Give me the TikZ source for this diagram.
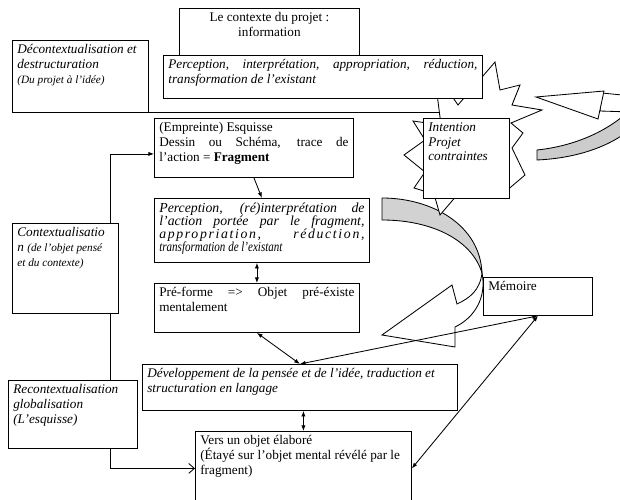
\documentclass[tikz,border=0pt]{standalone}
\usepackage{fontspec}
\usepackage{graphicx}
\setmainfont{Liberation Serif}
\usetikzlibrary{arrows.meta}

\newlength{\pxunit}
\setlength{\pxunit}{0.025cm}
% text block of a panel: width and height in pixels, text set from the top
\newcommand{\boxtxt}[3]{\parbox[t][\dimexpr#2\pxunit-6pt\relax][t]{\dimexpr#1\pxunit-7pt\relax}{\hyphenpenalty=10000\exhyphenpenalty=10000 #3}}
\newcommand{\smalltxt}{\fontsize{8}{9.5}\selectfont}

\begin{document}
\begin{tikzpicture}[x=0.025cm, y=-0.025cm, line width=0.6pt,
    font=\fontsize{9.4}{10.5}\selectfont,
    panel/.style={draw, fill=white, anchor=north west, inner xsep=3.5pt, inner ysep=3pt},
    arrowto/.style={-{Latex[length=4pt,width=3pt]}},
    biarrow/.style={{Latex[length=4pt,width=3pt]}-{Latex[length=4pt,width=3pt]}}]
  \useasboundingbox (0,0) rectangle (620,500);
  \clip (0,0) rectangle (620,500);

  \coordinate (spine) at (110,0);
  \draw (12,112) -- (470,112);

  % return arrow on the right
  \draw[fill=white] (602,93) -- (632,96) -- (632,112) -- (600,111) -- cycle;
  \draw[fill=gray!40] (630,110) .. controls (608,131) and (575,146) .. (537,150)
    -- (537,160) .. controls (580,158) and (612,145) .. (632,128) -- cycle;
  \draw[fill=white] (536,97) -- (604,91) -- (598,119) -- cycle;

  % curved arrow under the intention
  \draw[fill=gray!35] (382,198) .. controls (432,198) and (480,225) .. (482,273)
    .. controls (472,240) and (432,220) .. (382,220) -- cycle;
  \draw[fill=white] (482,273) .. controls (480,290) and (470,298) .. (457,304)
    -- (452,285) -- (382,335) -- (455,347) -- (455,327)
    .. controls (474,318) and (487,298) .. (482,273) -- cycle;

  % burst round the intention
  \draw[fill=white] (495,62) -- (500,90) -- (520,85) -- (512,105) -- (542,110)
    -- (511,123) -- (523,133) -- (512,148) -- (525,175) -- (505,192)
    -- (458,194) -- (440,215) -- (434,194) -- (414,188) -- (425,172)
    -- (404,155) -- (425,140) -- (413,121) -- (441,125) -- (434,70)
    -- (458,105) -- cycle;

  \node[panel] (deconx) at (12,40) {\boxtxt{136}{72}{\itshape Décontextualisation et\\
    destructuration\\ {\smalltxt(Du projet à l'idée)}}};
  \node[panel] (contexte) at (179,8) {\boxtxt{180}{60}{\centering Le contexte du projet :\\ information}};
  \node[panel] (persp1) at (163,55) {\boxtxt{319}{43}{\itshape Perception, interprétation,
    appropriation, réduction,\linebreak transformation de l'existant}};
  \node[panel] (intention) at (423,118) {\boxtxt{86}{80}{\itshape Intention\\ Projet\\ contraintes}};
  \node[panel] (empreinte) at (154,118) {\boxtxt{199}{59}{(Empreinte) Esquisse\\
    Dessin ou Schéma, trace de\linebreak l'action = \textbf{Fragment}}};
  \node[panel] (persp2) at (154,198) {\boxtxt{215}{64}{\itshape\fontsize{9.8}{9.4}\selectfont
    Perception, (ré)interprétation de\linebreak l'action portée par le fragment,\linebreak
    {\addfontfeature{LetterSpace=12}appropriation, réduction,}\linebreak
    \scalebox{0.8}[1]{transformation de l'existant}}};
  \node[panel] (preforme) at (154,283) {\boxtxt{205}{49}{Pré-forme => Objet pré-éxiste\linebreak mentalement}};
  \node[panel] (memoire) at (483,277) {\boxtxt{109}{38}{Mémoire}};
  \node[panel] (developpement) at (142,364) {\boxtxt{315}{46}{\itshape Développement de la pensée
    et de l'idée, traduction et\\ structuration en langage}};
  \node[panel] (vers) at (195,431) {\boxtxt{216}{74}{Vers un objet élaboré\\
    (Étayé sur l'objet mental révélé par le\\ fragment)}};
  \node[panel] (contextu) at (12,223) {\boxtxt{106}{90}{\itshape Contextualisatio\\
    n {\smalltxt(de l'objet pensé\\ et du contexte)}}};
  \node[panel] (recontext) at (8,380) {\boxtxt{129}{68}{\itshape Recontextualisation\\
    globalisation\\ (L'esquisse)}};

  % links
  \draw[arrowto] (spine |- contextu.north) |- ([yshift=-0.15cm]empreinte.west);
  \draw (spine |- contextu.south) -- (spine |- recontext.north);
  \draw[-{Straight Barb[length=4pt,width=7pt]}] (spine |- recontext.south) |- (vers.west);
  \draw[arrowto] (empreinte.south) -- (persp2.north);
  \draw[biarrow] (preforme.north |- persp2.south) -- (preforme.north);
  \draw[biarrow] (preforme.south) -- (developpement.north);
  \draw[biarrow] (memoire.south) -- (developpement.north);
  \draw[biarrow] (memoire.south) -- (vers.east);
  \draw[biarrow] (vers.north |- developpement.south) -- (vers.north);
\end{tikzpicture}
\end{document}
